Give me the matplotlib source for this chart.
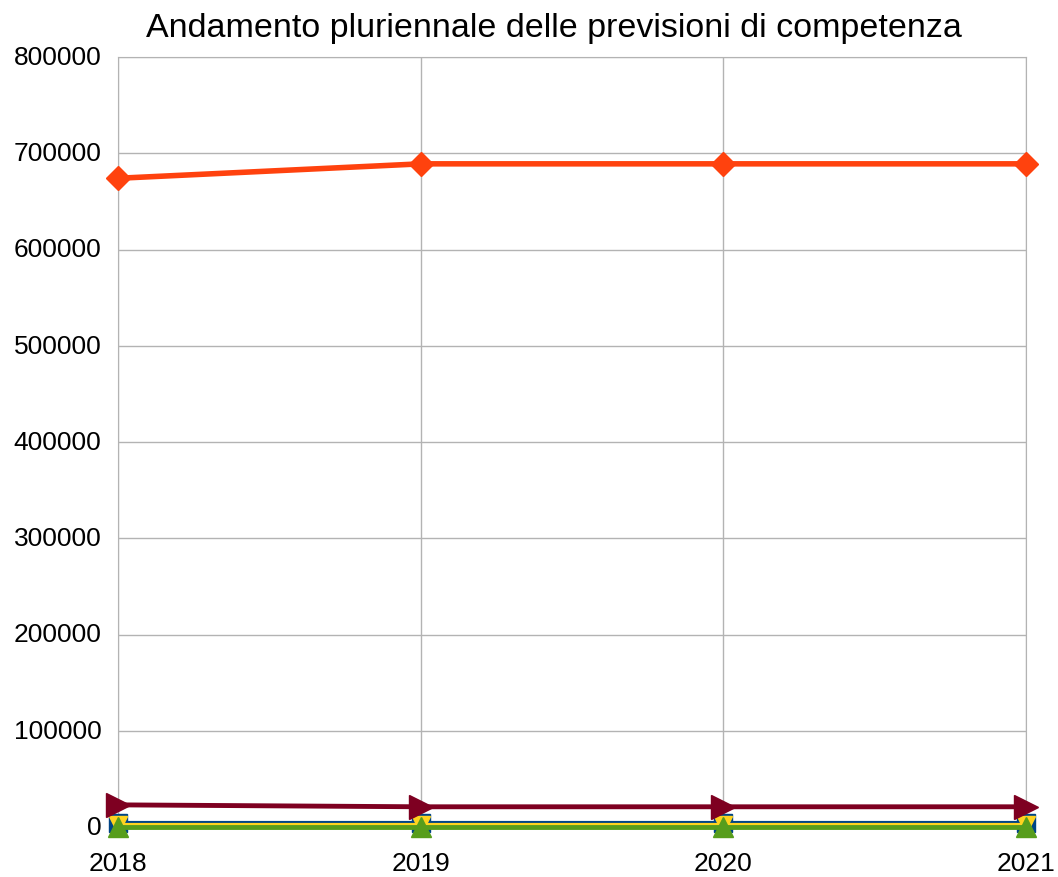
import matplotlib
matplotlib.use("Agg")
import matplotlib.pyplot as plt

years = [2018, 2019, 2020, 2021]
s_orange = [674000, 689000, 689000, 689000]
s_red = [23000, 21000, 21000, 21000]
s_blue = [4000, 4000, 4000, 4000]
s_yellow = [2000, 2000, 2000, 2000]
s_green = [0, 0, 0, 0]
yticks = [0, 100000, 200000, 300000, 400000, 500000, 600000, 700000, 800000]

plt.rcParams['font.family'] = ['Liberation Sans', 'DejaVu Sans']
fig = plt.figure(figsize=(10.58, 8.78), dpi=100)
ax = fig.add_axes([118/1058, 50/878, (1026-118)/1058, (828-58)/878])

ax.plot(years, s_blue, color='#004586', lw=3, marker='s', ms=13, zorder=3)
ax.plot(years, s_yellow, color='#ffd320', lw=3, marker='v', ms=13, zorder=4)
ax.plot(years, s_green, color='#579d1c', lw=3.5, marker='^', ms=14, zorder=5)
ax.plot(years, s_red, color='#7e0021', lw=3.5, marker='>', ms=17, zorder=6)
ax.plot(years, s_orange, color='#ff420e', lw=4, marker='D', ms=12, zorder=7)

ax.set_xlim(2018, 2021)
ax.set_ylim(0, 800000)
ax.set_xticks(years)
ax.set_xticklabels([str(y) for y in years])
ax.set_yticks(yticks)
ax.set_yticklabels([str(v) for v in yticks])
ax.tick_params(axis='both', labelsize=19, length=0, pad=12)
ax.tick_params(axis='x', pad=17)
ax.grid(True, color='#b3b3b3', lw=1)
ax.set_axisbelow(True)
for sp in ax.spines.values():
    sp.set_color('#b3b3b3')
for lab in ax.get_yticklabels():
    lab.set_verticalalignment('center')
fig.text(554/1058, 1 - 28/878, 'Andamento pluriennale delle previsioni di competenza',
         fontsize=24.5, ha='center', va='center')
for line in ax.lines:
    line.set_clip_on(False)
fig.savefig('out.png', dpi=100)
